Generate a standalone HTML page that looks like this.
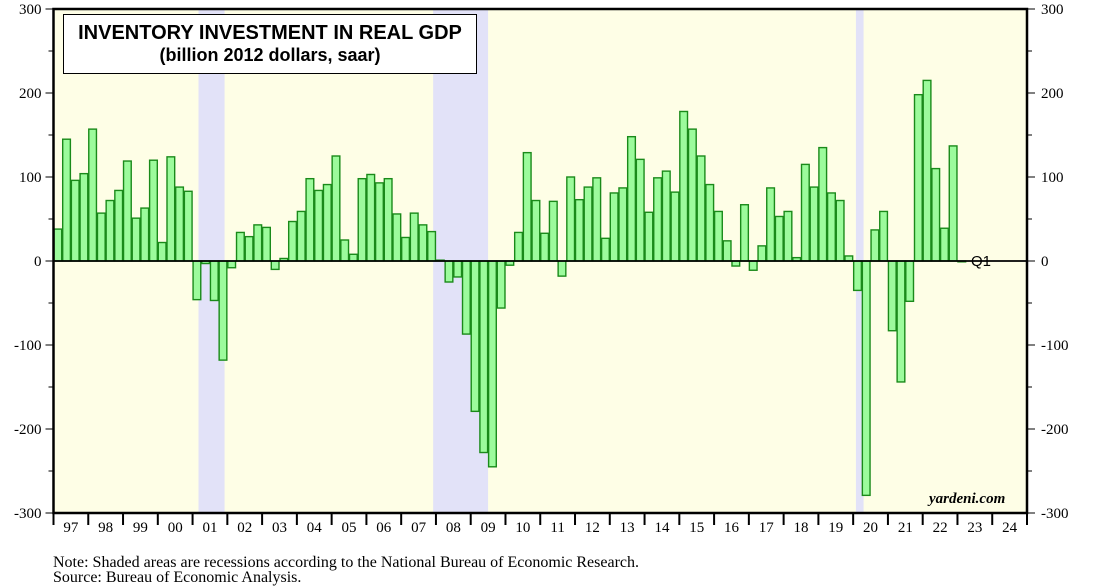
<!DOCTYPE html>
<html><head><meta charset="utf-8"><style>
body{margin:0;background:#fff;width:1093px;height:586px;overflow:hidden}
svg{display:block}
.ser{font-family:"Liberation Serif",serif}
</style></head><body>
<svg id="chart" width="1093" height="586" viewBox="0 0 1093 586"></svg>
<script>
const years = ['97','98','99','00','01','02','03','04','05','06','07','08','09','10','11','12','13','14','15','16','17','18','19','20','21','22','23','24'];
const yTicks = [300,200,100,0,-100,-200,-300];
const values = [
38,145,96,104, 157,57,72,84, 119,51,63,120, 22,124,88,83,
-46,-3,-47,-118, -8,34,29,43, 40,-10,3,47, 59,98,84,91,
125,25,8,98, 103,93,98,56, 28,57,43,35, 1,-25,-19,-87,
-179,-228,-245,-56, -5,34,129,72, 33,71,-18,100, 73,88,99,27,
81,87,148,121, 58,99,107,82, 178,157,125,91, 59,24,-6,67,
-11,18,87,53, 59,4,115,88, 135,81,72,6, -35,-279,37,59,
-83,-144,-48,198, 215,110,39,137, -1];
const recessions = [[2001.17,2001.92],[2007.92,2009.5],[2020.08,2020.3]];
const NS='http://www.w3.org/2000/svg';
const svg=document.getElementById('chart');
const L=53.5,R=1027,T=9,B=513,Y0=1997,NY=28;
const x=t=>L+(t-Y0)*(R-L)/NY;
const y=v=>T+(300-v)*(B-T)/600;
function mk(tag,attrs,parent){const e=document.createElementNS(NS,tag);for(const k in attrs)e.setAttribute(k,attrs[k]);(parent||svg).appendChild(e);return e;}
const bg=mk('rect',{x:L,y:T,width:R-L,height:B-T,fill:'#fefee6'});


recessions.forEach(r=>{const e=mk('rect',{x:x(r[0]),y:T,width:x(r[1])-x(r[0]),height:B-T,fill:'#e2e2f8'});

});
values.forEach((v,i)=>{const t=Y0+i/4;const top=Math.min(y(v),y(0)),h=Math.abs(y(v)-y(0));
const e=mk('rect',{x:x(t)+0.5,y:top,width:(R-L)/NY/4-1,height:Math.max(h,0.5),fill:'#9cfb9c',stroke:'#1a8a1a','stroke-width':1.4});

});
const zl=mk('line',{x1:L,x2:R,y1:y(0),y2:y(0),stroke:'#000','stroke-width':1.8});


const fr=mk('rect',{x:L,y:T,width:R-L,height:B-T,fill:'none',stroke:'#000','stroke-width':2.5});


yTicks.forEach(v=>{
 mk('line',{x1:L-8,x2:L,y1:y(v),y2:y(v),stroke:'#000','stroke-width':1});
 mk('line',{x1:R,x2:R+8,y1:y(v),y2:y(v),stroke:'#000','stroke-width':1});
 const a=mk('text',{x:L-12,y:y(v)+5,'text-anchor':'end','font-size':15,class:'ser'});a.textContent=v;
 
 
 const b=mk('text',{x:R+14,y:y(v)+5,'font-size':15,class:'ser'});b.textContent=v;
 
 
 if(v>-300){mk('line',{x1:L-5,x2:L,y1:y(v-50),y2:y(v-50),stroke:'#000'});mk('line',{x1:R,x2:R+5,y1:y(v-50),y2:y(v-50),stroke:'#000'});}
});
years.forEach((lab,i)=>{
 mk('line',{x1:x(Y0+i),x2:x(Y0+i),y1:B,y2:B+12,stroke:'#000','stroke-width':2});
 const t=mk('text',{x:x(Y0+i+0.5),y:B+19,'text-anchor':'middle','font-size':15,class:'ser'});t.textContent=lab;
 
 
});
mk('line',{x1:R,x2:R,y1:B,y2:B+12,stroke:'#000','stroke-width':2});
</script>
<div style="position:absolute;left:63px;top:14px;width:414px;height:60px;border:1.5px solid #000;background:#fff;font-family:'Liberation Sans',sans-serif;font-weight:bold;text-align:center;line-height:22px;padding-top:7px;box-sizing:border-box">
<div style="font-size:20px">INVENTORY INVESTMENT IN REAL GDP</div>
<div style="font-size:18px">(billion 2012 dollars, saar)</div></div>
<div style="position:absolute;left:971px;top:253px;font-family:'Liberation Sans',sans-serif;font-size:15px">Q1</div>
<div style="position:absolute;left:929px;top:491px;font-family:'Liberation Serif',serif;font-style:italic;font-weight:bold;font-size:15px">yardeni.com</div>
<div style="position:absolute;left:53px;top:555px;font-family:'Liberation Serif',serif;font-size:16px;line-height:15px">Note: Shaded areas are recessions according to the National Bureau of Economic Research.<br>Source: Bureau of Economic Analysis.</div>
</body></html>
